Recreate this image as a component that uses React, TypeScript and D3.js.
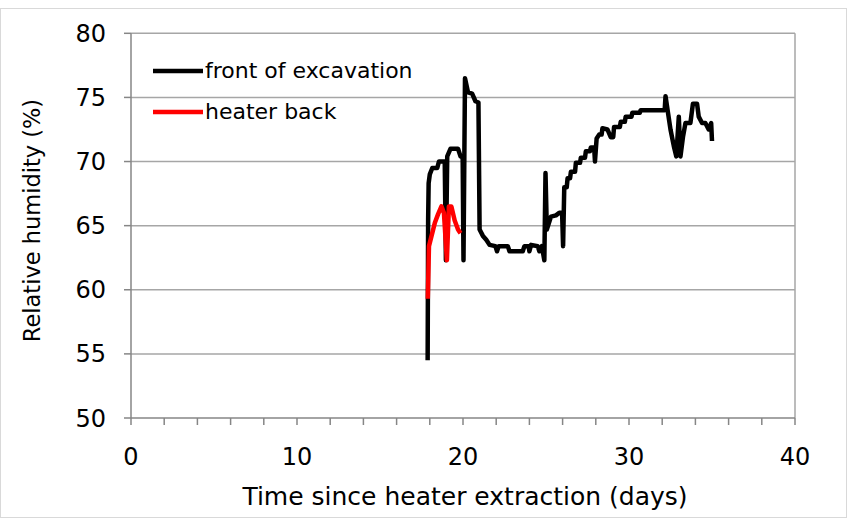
import React from "react";
import * as d3 from "d3";

const frontDays = [17.87, 17.9, 17.93, 18.0, 18.15, 18.45, 18.55, 18.9, 18.97, 19.05, 19.25, 19.7, 19.85, 19.98, 20.03, 20.12, 20.3, 20.55, 20.75, 20.93, 21.0, 21.2, 21.4, 21.6, 21.95, 22.05, 22.15, 22.7, 22.8, 23.6, 23.7, 23.95, 24.0, 24.1, 24.5, 24.6, 24.75, 24.9, 24.97, 25.05, 25.3, 25.6, 25.8, 25.97, 26.03, 26.1, 26.25, 26.3, 26.45, 26.5, 26.75, 26.8, 27.05, 27.1, 27.35, 27.4, 27.65, 27.7, 27.9, 27.95, 28.05, 28.2, 28.35, 28.4, 28.7, 28.9, 29.05, 29.1, 29.45, 29.5, 29.75, 29.8, 30.15, 30.2, 30.65, 30.7, 32.15, 32.2, 32.35, 32.5, 32.7, 32.85, 33.0, 33.1, 33.25, 33.4, 33.7, 33.85, 34.1, 34.2, 34.4, 34.6, 34.8, 34.95, 35.0];
const frontRH = [54.5, 65.5, 68.3, 69.0, 69.5, 69.5, 70.0, 70.0, 62.3, 70.4, 71.0, 71.0, 70.4, 70.3, 62.3, 76.5, 75.4, 75.3, 74.7, 74.6, 64.7, 64.2, 63.9, 63.5, 63.4, 63.0, 63.4, 63.4, 63.0, 63.0, 63.4, 63.4, 63.0, 63.5, 63.4, 63.0, 63.4, 62.3, 69.1, 64.7, 65.7, 65.8, 66.0, 66.0, 63.4, 68.0, 68.0, 68.7, 68.7, 69.2, 69.2, 69.9, 69.9, 70.3, 70.3, 70.8, 70.8, 71.1, 71.1, 70.0, 71.8, 72.1, 72.1, 72.6, 72.5, 71.9, 71.9, 72.7, 72.7, 73.1, 73.1, 73.5, 73.5, 73.8, 73.8, 74.0, 74.0, 75.1, 73.8, 72.5, 71.2, 70.4, 73.5, 70.4, 71.9, 73.0, 73.0, 74.5, 74.5, 73.5, 73.0, 73.0, 72.5, 73.0, 71.6];

const backDays = [17.88, 17.95, 18.3, 18.5, 18.7, 18.85, 19.03, 19.15, 19.3, 19.5, 19.7, 19.85];
const backRH = [59.3, 63.4, 65.2, 65.9, 66.5, 66.0, 62.3, 66.5, 66.5, 65.4, 64.7, 64.4];

const xTicks = [0, 10, 20, 30, 40];
const yTicks = [50, 55, 60, 65, 70, 75, 80];
const xMinorTicks = d3.range(0, 41, 2);

const seriesNames = ["front of excavation", "heater back"];
const seriesColors = ["#000000", "#ff0000"];

const W = 847;
const H = 518;
const FONT = "DejaVu Sans, Verdana, sans-serif";

export default function App() {
  const x = d3.scaleLinear().domain([0, 40]).range([131, 795]);
  const y = d3.scaleLinear().domain([50, 80]).range([418, 33.3]);

  const line = d3
    .line<[number, number]>()
    .x((d) => x(d[0]))
    .y((d) => y(d[1]));

  const front = frontDays.map((d, i) => [d, frontRH[i]] as [number, number]);
  const back = backDays.map((d, i) => [d, backRH[i]] as [number, number]);

  return (
    <svg
      width={W}
      height={H}
      style={{ position: "absolute", left: 0, top: 0, background: "#fff" }}
    >
      <rect x={0.5} y={8.5} width={W - 1} height={H - 9} fill="#fff" stroke="#d9d9d9" />
      {yTicks.slice(1).map((t) => (
        <line key={t} x1={x(0)} x2={x(40)} y1={y(t)} y2={y(t)} stroke="#a6a6a6" strokeWidth={1.5} />
      ))}
      <line x1={x(40)} x2={x(40)} y1={y(80)} y2={y(50)} stroke="#a6a6a6" strokeWidth={1.5} />
      <line x1={x(0)} x2={x(0)} y1={y(80)} y2={y(50)} stroke="#868686" strokeWidth={1.5} />
      <line x1={x(0)} x2={x(40)} y1={y(50)} y2={y(50)} stroke="#868686" strokeWidth={1.5} />
      {yTicks.map((t) => (
        <line key={t} x1={x(0) - 7} x2={x(0)} y1={y(t)} y2={y(t)} stroke="#868686" strokeWidth={1.5} />
      ))}
      {xMinorTicks.map((t) => (
        <line key={t} x1={x(t)} x2={x(t)} y1={y(50)} y2={y(50) + 7} stroke="#868686" strokeWidth={1.5} />
      ))}
      {yTicks.map((t) => (
        <text key={t} x={106} y={y(t) + 8.5} textAnchor="end" fontFamily={FONT} fontSize={24} fill="#000">
          {t}
        </text>
      ))}
      {xTicks.map((t) => (
        <text key={t} x={x(t)} y={465} textAnchor="middle" fontFamily={FONT} fontSize={24} fill="#000">
          {t}
        </text>
      ))}
      <text x={465} y={505} textAnchor="middle" fontFamily={FONT} fontSize={25} fill="#000">
        Time since heater extraction (days)
      </text>
      <text
        transform={`translate(40, ${y(65.4)}) rotate(-90)`}
        textAnchor="middle"
        fontFamily={FONT}
        fontSize={22.5}
        fill="#000"
      >
        Relative humidity (%)
      </text>
      <path d={line(front) || ""} fill="none" stroke={seriesColors[0]} strokeWidth={4.5} strokeLinejoin="round" />
      <path d={line(back) || ""} fill="none" stroke={seriesColors[1]} strokeWidth={4.5} strokeLinejoin="round" />
      {seriesNames.map((n, i) => (
        <g key={n}>
          <line x1={153} x2={203} y1={71 + i * 41} y2={71 + i * 41} stroke={seriesColors[i]} strokeWidth={4.5} />
          <text x={205} y={77.5 + i * 41} fontFamily={FONT} fontSize={22} fill="#000">
            {n}
          </text>
        </g>
      ))}
    </svg>
  );
}
